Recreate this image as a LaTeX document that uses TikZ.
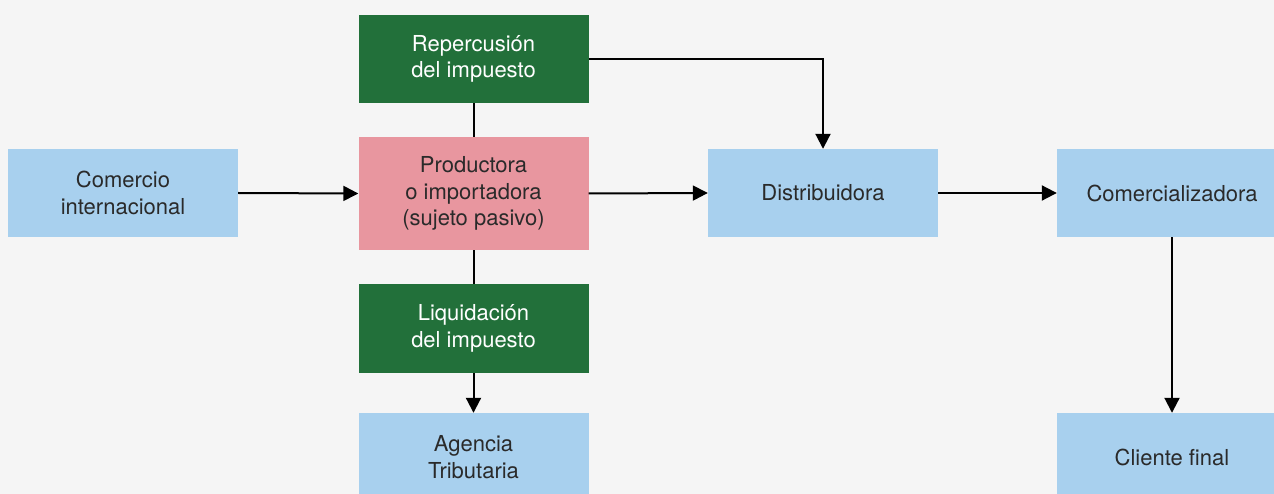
\documentclass[tikz,border=0pt]{standalone}
\usepackage{fontspec}
\setmainfont{TeX Gyre Heros}
\usetikzlibrary{arrows.meta}
\definecolor{bg}{HTML}{F5F5F5}
\definecolor{gbox}{HTML}{22703A}
\definecolor{pbox}{HTML}{E8969F}
\definecolor{bbox}{HTML}{A8D0EE}
\definecolor{txt}{HTML}{2A2A2A}
\tikzset{
  box/.style={rectangle, minimum width=230pt, minimum height=88pt, inner sep=0pt,
    align=center, font=\fontsize{22}{26.5}\selectfont, text=txt},
  bluebox/.style={box, fill=bbox},
  greenbox/.style={box, fill=gbox, text=white},
  pinkbox/.style={box, fill=pbox},
  conn/.style={line width=2pt, draw=black},
  arr/.style={conn, -{Triangle[length=15pt,width=15pt]}},
}
\begin{document}
\begin{tikzpicture}[x=1pt,y=-1pt]
\fill[bg] (0,0) rectangle (1274,494);
\useasboundingbox (0,0) rectangle (1274,494);
\clip (0,0) rectangle (1274,494);
\node[greenbox] (rep) at (473.5,59) {Repercusión\\del impuesto};
\node[pinkbox, minimum height=113pt] (prod) at (473.5,193.5) {Productora\\o importadora\\(sujeto pasivo)};
\node[greenbox, minimum height=89pt] (liq) at (473.5,328.5) {Liquidación\\del impuesto};
\node[bluebox] (age) at (473.5,457) {Agencia\\Tributaria};
\node[bluebox] (com) at (123,193) {Comercio\\internacional};
\node[bluebox] (dis) at (823,193) {Distribuidora};
\node[bluebox] (cml) at (1172,193) {Comercializadora};
\node[bluebox] (cli) at (1172,457) {Cliente final};
\draw[arr] (com.east) -- (prod.west);
\draw[arr] (prod.east) -- (dis.west);
\draw[arr] (dis.east) -- (cml.west);
\draw[conn] (rep.south) -- (prod.north);
\draw[conn] (prod.south) -- (liq.north);
\draw[arr] (liq.south) -- (age.north);
\draw[arr] (cml.south) -- (cli.north);
\draw[arr] (rep.east) -| (dis.north);
\end{tikzpicture}
\end{document}
